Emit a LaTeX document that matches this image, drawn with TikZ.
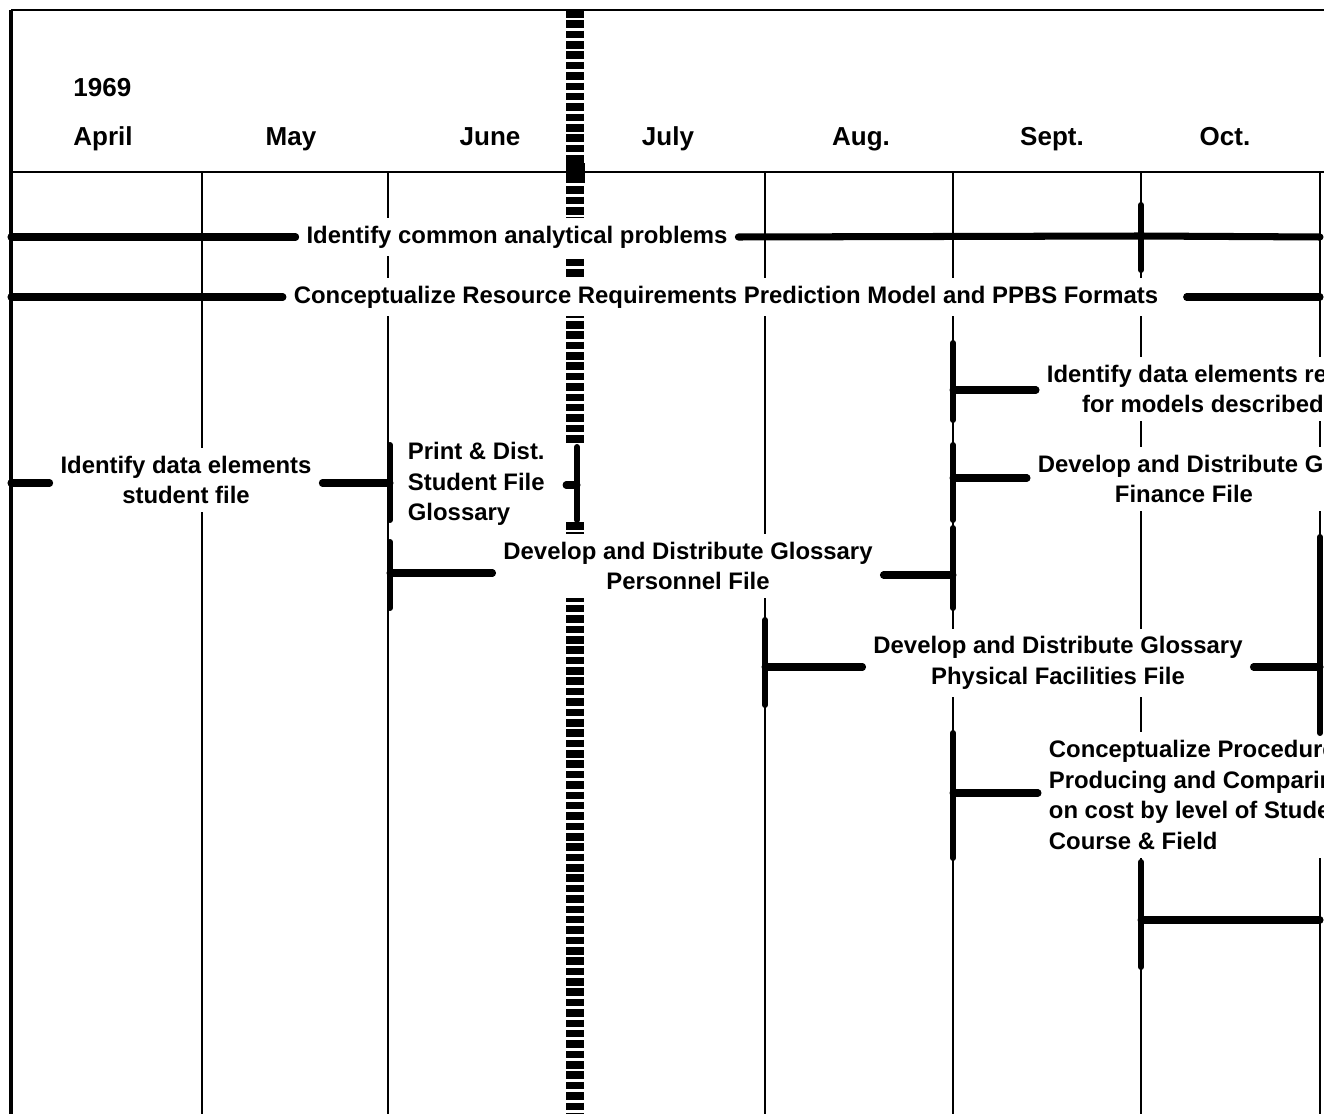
\documentclass[tikz,border=0pt]{standalone}
\usepackage{fontspec}
\setmainfont{Liberation Sans}
\usetikzlibrary{positioning, calc}

\begin{document}
\begin{tikzpicture}[
      x=0.02cm, y=-0.02cm,
      month/.style={font=\fontsize{14.8}{17}\selectfont\bfseries, inner sep=0pt, anchor=base},
      task/.style={fill=white, align=center, inner xsep=6pt, inner ysep=4.5pt, font=\fontsize{13.6}{17.5}\selectfont\bfseries},
      tasklist/.style={task, align=left},
      frame/.style={line width=2.8pt},
      rule/.style={line width=1.6pt},
      grid/.style={line width=1.3pt},
      bar/.style={line width=4pt, line cap=round},
      brace/.style={line width=3.4pt, line cap=round},
      fiscal/.style={line width=10.8pt, dash pattern=on 4.3pt off 1.6pt}
      ]

      \useasboundingbox (0,0) rectangle (1324,1114);
      \clip (0,0) rectangle (1324,1114);

      % Month boundaries
      \coordinate (apr) at (11,172);
      \coordinate (may) at (202,172);
      \coordinate (jun) at (388,172);
      \coordinate (jul) at (575,172);
      \coordinate (aug) at (765,172);
      \coordinate (sep) at (953,172);
      \coordinate (oct) at (1141,172);
      \coordinate (nov) at (1320,172);
      \coordinate (top) at (0,10);
      \coordinate (bot) at (0,1114);

      % Frame and header
      \draw[rule] (top -| apr) -- (top -| 1324,0);
      \draw[rule] (apr) -- (1324,172);
      \draw[frame] (top -| apr) -- (bot -| apr);
      \foreach \m in {may,jun,aug,sep,oct,nov}
        \draw[grid] (\m) -- (bot -| \m);

      % Fiscal year break
      \draw[fiscal] (top -| jul) -- (575,443);
      \draw[fiscal] (575,522) -- (bot -| jul);
      \fill (566,163) rectangle (585,183);

      % Months
      \node[month] (april) at (103,146) {April};
      \node[month] (mayl) at (291,146) {May};
      \node[month] (junel) at (490,146) {June};
      \node[month] (julyl) at (668,146) {July};
      \node[month] (augl) at (861,146) {Aug.};
      \node[month] (septl) at (1052,146) {Sept.};
      \node[month] (octl) at (1225,146) {Oct.};
      \node[month, anchor=base west] (year) at (april.west |- 0,97) {1969};

      % Tasks
      \node[task] (common) at (517,237) {Identify common analytical problems};
      \node[task] (resource) at (726,297) {Conceptualize Resource Requirements Prediction Model and PPBS Formats};
      \node[tasklist, anchor=west] (models) at (1036,389) {Identify data elements re\\\hspace*{20pt}for models described};
      \node[task, anchor=west] (finance) at (1027,479) {Develop and Distribute Gl\\Finance File};
      \node[task] (studentid) at (186,480) {Identify data elements\\student file};
      \node[tasklist, anchor=west] (printglos) at (397,484) {Print \& Dist.\\Student File\\Glossary};
      \node[task] (personnel) at (688,566) {Develop and Distribute Glossary\\Personnel File};
      \node[task] (physical) at (1058,663) {Develop and Distribute Glossary\\Physical Facilities File};
      \node[tasklist, anchor=west] (procedures) at (1038,795) {Conceptualize Procedures\\Producing and Comparing\\on cost by level of Stude\\Course \& Field};

      % Junctions
      \coordinate (j-common) at (1141,236);
      \coordinate (j-models) at (953,390);
      \coordinate (j-finance) at (953,478);
      \coordinate (j-stud-l) at (11,483);
      \coordinate (j-stud-r) at (390,483);
      \coordinate (j-print) at (577,485);
      \coordinate (j-pers-l) at (390,573);
      \coordinate (j-pers-r) at (953,575);
      \coordinate (j-phys-l) at (765,667);
      \coordinate (j-phys-r) at (1320,667);
      \coordinate (j-proc) at (953,793);
      \coordinate (j-last) at (1141,920);

      % Bars
      \draw[bar] (common.west -| apr) -- (common.west);
      \draw[bar] (common.east) -- (j-common) -- (common.east -| nov);
      \draw[bar] (resource.west -| apr) -- (resource.west);
      \draw[bar, shorten <=10pt] (resource.east) -- (resource.east -| nov);
      \draw[bar] (j-models) -- (j-models -| models.west);
      \draw[bar] (j-finance) -- (j-finance -| finance.west);
      \draw[bar] (j-stud-l) -- (j-stud-l -| studentid.west);
      \draw[bar] (j-stud-r -| studentid.east) -- (j-stud-r);
      \draw[bar, shorten <=6pt] (j-print -| printglos.east) -- (j-print);
      \draw[bar] (j-pers-l) -- (j-pers-l -| personnel.west);
      \draw[bar] (j-pers-r -| personnel.east) -- (j-pers-r);
      \draw[bar] (j-phys-l) -- (j-phys-l -| physical.west);
      \draw[bar] (j-phys-r -| physical.east) -- (j-phys-r);
      \draw[bar] (j-proc) -- (j-proc -| procedures.west);
      \draw[bar] (j-last) -- (j-last -| nov);

      % Brackets
      \draw[brace] ($(j-common)+(0,-31)$) -- ($(j-common)+(0,34)$);
      \draw[brace] ($(j-models)+(0,-47)$) -- ($(j-models)+(0,30)$);
      \draw[brace] ($(j-finance)+(0,-33)$) -- ($(j-finance)+(0,42)$);
      \draw[brace] ($(j-stud-r)+(0,-38)$) -- ($(j-stud-r)+(0,37)$);
      \draw[brace] ($(j-print)+(0,-38)$) -- ($(j-print)+(0,35)$);
      \draw[brace] ($(j-pers-l)+(0,-31)$) -- ($(j-pers-l)+(0,35)$);
      \draw[brace] ($(j-pers-r)+(0,-47)$) -- ($(j-pers-r)+(0,33)$);
      \draw[brace] ($(j-phys-l)+(0,-47)$) -- ($(j-phys-l)+(0,38)$);
      \draw[brace] ($(j-phys-r)+(0,-130)$) -- ($(j-phys-r)+(0,66)$);
      \draw[brace] ($(j-proc)+(0,-60)$) -- ($(j-proc)+(0,65)$);
      \draw[brace] ($(j-last)+(0,-58)$) -- ($(j-last)+(0,47)$);

   \end{tikzpicture}
\end{document}
